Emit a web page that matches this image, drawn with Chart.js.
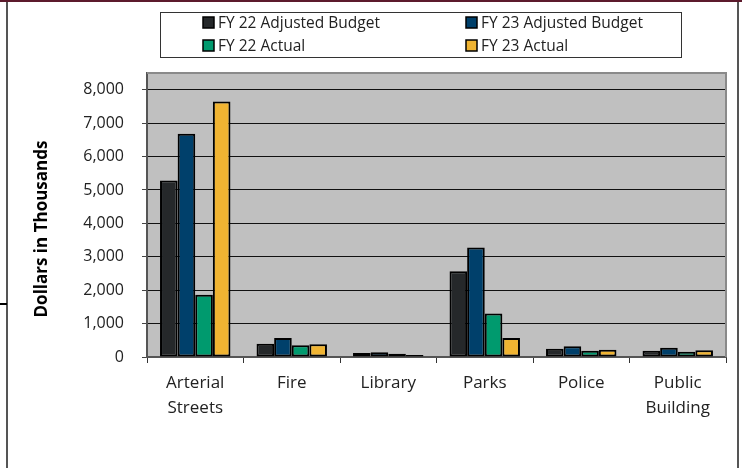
<!DOCTYPE html>
<html>
<head>
<meta charset="utf-8">
<script src="https://cdn.jsdelivr.net/npm/chart.js@4/dist/chart.umd.min.js"></script>
<style>
  html, body { margin: 0; padding: 0; background: #fff; }
  #wrap { position: relative; width: 742px; height: 468px; overflow: hidden; }
  #frame { position: absolute; left: 6px; top: 0; width: 733px; height: 468px;
           border-left: 2px solid #555; border-right: 2px solid #555; box-sizing: border-box; }
  #topline { position: absolute; left: 0; top: 0; width: 742px; height: 2px; background: #5c1a2c; }
  #stub { position: absolute; left: 0; top: 303px; width: 7px; height: 2px; background: #000; }
  canvas { position: absolute; left: 0; top: 0; }
</style>
</head>
<body>
<div id="wrap">
  <div id="frame"></div>
  <div id="topline"></div>
  <div id="stub"></div>
  <canvas id="chart" width="742" height="468"></canvas>
</div>
<script>
const categories = [['Arterial', 'Streets'], 'Fire', 'Library', 'Parks', 'Police', ['Public', 'Building']];
const fy22Budget = [5280, 400, 120, 2570, 250, 190];
const fy23Budget = [6680, 570, 140, 3280, 320, 280];
const fy22Actual = [1860, 350, 100, 1300, 190, 160];
const fy23Actual = [7650, 380, 60, 570, 220, 200];
const yTicks = [0, 1000, 2000, 3000, 4000, 5000, 6000, 7000, 8000];
const seriesNames = ['FY 22 Adjusted Budget', 'FY 23 Adjusted Budget', 'FY 22 Actual', 'FY 23 Actual'];
const seriesColors = ['#25282a', '#00406b', '#009a6e', '#f0b432'];
const yTitle = 'Dollars in Thousands';

const font = '"Open Sans", "Noto Sans", sans-serif';

// grey plot area + outline
const plotBox = {
    id: 'plotBox',
    beforeDraw(chart) {
        const a = chart.chartArea, c = chart.ctx;
        c.save();
        c.fillStyle = '#c0c0c0';
        c.fillRect(a.left, a.top, a.right - a.left, a.bottom - a.top);
        c.restore();
    },
    afterDraw(chart) {
        const a = chart.chartArea, c = chart.ctx;
        c.save();
        c.strokeStyle = '#8a8a8a';
        c.lineWidth = 2;
        c.beginPath();
        c.moveTo(a.left, a.top);
        c.lineTo(a.right, a.top);
        c.lineTo(a.right, a.bottom);
        c.stroke();
        // y title sits a bit lower than the plot centre in the original
        c.translate(42, 229);
        c.rotate(-Math.PI / 2);
        c.font = 'bold 17px ' + font;
        c.fillStyle = '#000';
        c.textAlign = 'center';
        c.textBaseline = 'middle';
        c.fillText(yTitle, 0, 0);
        c.restore();
    }
};

// two-column boxed legend like the original
const boxLegend = {
    id: 'boxLegend',
    afterDraw(chart) {
        const c = chart.ctx;
        const cols = [203, 466], rows = [22, 45];
        c.save();
        c.strokeStyle = '#333';
        c.lineWidth = 1;
        c.strokeRect(160.5, 12.5, 521, 45);
        c.font = '15.5px ' + font;
        c.textBaseline = 'middle';
        chart.data.datasets.forEach((ds, i) => {
            const x = cols[i % 2], y = rows[Math.floor(i / 2)];
            c.fillStyle = ds.backgroundColor;
            c.fillRect(x, y - 5, 11, 11);
            c.strokeStyle = '#000';
            c.lineWidth = 1.5;
            c.strokeRect(x, y - 5, 11, 11);
            c.fillStyle = '#222';
            c.fillText(ds.label, x + 15, y + 1.5);
        });
        c.restore();
    }
};

const datasets = [fy22Budget, fy23Budget, fy22Actual, fy23Actual].map((d, i) => ({
    label: seriesNames[i],
    data: d,
    backgroundColor: seriesColors[i],
    borderColor: '#000',
    borderWidth: 2,
    borderSkipped: false
}));

new Chart(document.getElementById('chart'), {
    type: 'bar',
    data: { labels: categories, datasets: datasets },
    options: {
        responsive: false,
        animation: false,
        layout: { padding: { top: 73, right: 16, left: 0, bottom: 0 } },
        datasets: { bar: { categoryPercentage: 0.73, barPercentage: 1.0 } },
        plugins: {
            legend: { display: false },
            tooltip: { enabled: false }
        },
        scales: {
            x: {
                afterFit(scale) { scale.height = 111; },
                grid: {
                    offset: true,
                    drawOnChartArea: false,
                    drawTicks: true,
                    tickLength: 6,
                    tickColor: '#333'
                },
                border: { color: '#555', width: 2 },
                ticks: {
                    color: '#222',
                    padding: 8,
                    maxRotation: 0,
                    font: { family: font, size: 17, lineHeight: 1.47 }
                }
            },
            y: {
                min: 0,
                max: 8500,
                afterFit(scale) { scale.width = 147; },
                afterBuildTicks(scale) {
                    scale.ticks = yTicks.map(v => ({ value: v }));
                },
                grid: {
                    color: '#111',
                    lineWidth: 1,
                    tickLength: 5,
                    tickColor: '#444'
                },
                border: { color: '#555', width: 2 },
                ticks: {
                    color: '#222',
                    padding: 18,
                    font: { family: font, size: 16 },
                    callback: v => v.toLocaleString('en-US')
                },
                title: { display: false }
            }
        }
    },
    plugins: [plotBox, boxLegend]
});
</script>
</body>
</html>
